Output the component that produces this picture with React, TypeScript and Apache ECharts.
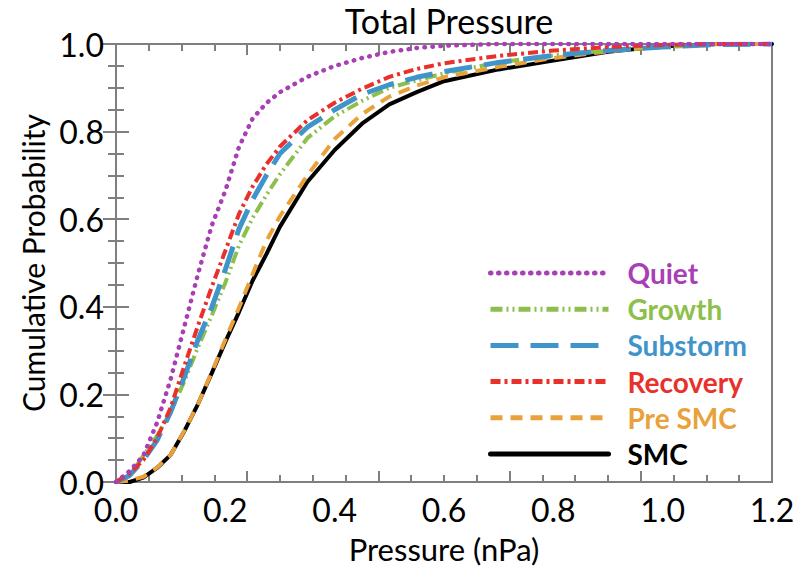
import React, { useEffect, useRef } from "react";
import * as echarts from "echarts";

const pressureGrid = [0, 0.025, 0.05, 0.075, 0.1, 0.125, 0.15, 0.175, 0.2, 0.225, 0.25, 0.275, 0.3, 0.35, 0.4, 0.45, 0.5, 0.55, 0.6, 0.7, 0.8, 0.9, 1.0, 1.1, 1.2];

const quiet = [0, 0.025, 0.06, 0.135, 0.235, 0.355, 0.475, 0.585, 0.665, 0.765, 0.83, 0.865, 0.89, 0.925, 0.95, 0.968, 0.982, 0.991, 0.996, 1.0, 1.0, 1.0, 1.0, 1.0, 1.0];
const growth = [0, 0.015, 0.06, 0.105, 0.16, 0.23, 0.308, 0.38, 0.455, 0.54, 0.603, 0.655, 0.703, 0.785, 0.835, 0.87, 0.9, 0.917, 0.933, 0.958, 0.974, 0.985, 0.993, 0.999, 1.0];
const substorm = [0, 0.015, 0.05, 0.095, 0.16, 0.24, 0.325, 0.398, 0.485, 0.578, 0.645, 0.7, 0.75, 0.81, 0.85, 0.885, 0.907, 0.924, 0.937, 0.958, 0.974, 0.985, 0.993, 0.999, 1.0];
const recovery = [0, 0.02, 0.05, 0.1, 0.17, 0.265, 0.357, 0.445, 0.528, 0.612, 0.675, 0.725, 0.766, 0.826, 0.866, 0.898, 0.925, 0.943, 0.956, 0.973, 0.985, 0.993, 0.998, 1.0, 1.0];
const preSmc = [0, 0.003, 0.012, 0.033, 0.062, 0.117, 0.178, 0.25, 0.325, 0.398, 0.475, 0.55, 0.607, 0.7, 0.783, 0.84, 0.88, 0.905, 0.924, 0.948, 0.968, 0.983, 0.994, 1.0, 1.0];
const smc = [0, 0.0, 0.01, 0.032, 0.062, 0.116, 0.178, 0.248, 0.32, 0.388, 0.46, 0.52, 0.583, 0.685, 0.758, 0.818, 0.862, 0.89, 0.915, 0.942, 0.962, 0.982, 0.995, 1.0, 1.0];

const xTickLabels = ["0.0", "0.2", "0.4", "0.6", "0.8", "1.0", "1.2"];

const FONT = "Lato";
const AXIS_COLOR = "#7f7f7f";

function pairs(vals: number[]) {
  return pressureGrid.map((x, i) => [x, vals[i]]);
}

export default function App() {
  const ref = useRef<HTMLDivElement>(null);
  useEffect(() => {
    if (!ref.current) return;
    const chart = echarts.init(ref.current, null, { renderer: "svg" });
    const mk = (name: string, vals: number[], color: string, width: number, type: any, cap: string) => ({
      name,
      type: "line",
      data: pairs(vals),
      symbol: "none",
      smooth: false,
      lineStyle: { color, width, type, cap },
      itemStyle: { color },
      xAxisIndex: 0,
      yAxisIndex: 0,
    });
    const hiddenAxisBase = {
      type: "value",
      min: 0,
      axisLabel: { show: false },
      splitLine: { show: false },
      axisLine: { show: false },
    };
    chart.setOption({
      animation: false,
      backgroundColor: "#ffffff",
      title: {
        text: "Total Pressure",
        left: 444,
        textAlign: "center",
        top: 4,
        textStyle: { fontFamily: FONT, fontSize: 34, lineHeight: 22, fontWeight: "normal", color: "#000" },
      },
      grid: {
        left: 116,
        right: 32,
        top: 44,
        bottom: 86,
        show: true,
        borderColor: AXIS_COLOR,
        borderWidth: 2,
        backgroundColor: "transparent",
      },
      legend: {
        orient: "vertical",
        left: 488,
        top: 258,
        padding: 0,
        itemWidth: 118,
        itemHeight: 14,
        itemGap: 6.2,
        itemStyle: { opacity: 0 },
        lineStyle: { width: 5 },
        data: [
          { name: "Quiet", textStyle: { color: "#a83fb4" } },
          { name: "Growth", textStyle: { color: "#8cbf4c" } },
          { name: "Substorm", textStyle: { color: "#3f94c9" } },
          { name: "Recovery", textStyle: { color: "#e8312b" } },
          { name: "Pre SMC", textStyle: { color: "#e9a13a" } },
          { name: "SMC", textStyle: { color: "#000000" } },
        ],
        textStyle: { fontFamily: FONT, fontSize: 28, fontWeight: "bold", lineHeight: 30, padding: [0, 0, 0, 14] },
      },
      xAxis: [
        {
          type: "value",
          min: 0,
          max: 1.2,
          interval: 0.2,
          position: "bottom",
          axisLine: { show: true, lineStyle: { color: AXIS_COLOR, width: 2 } },
          axisTick: { show: false },
          splitLine: { show: false },
          axisLabel: {
            fontFamily: FONT,
            fontSize: 32,
            color: "#000",
            margin: 11,
            formatter: (v: number) => xTickLabels[Math.round(v / 0.2)] ?? v.toFixed(1),
          },
          name: "Pressure (nPa)",
          nameLocation: "middle",
          nameGap: 51,
          nameTextStyle: { fontFamily: FONT, fontSize: 31, color: "#000" },
        },
        {
          ...hiddenAxisBase,
          max: 1.2,
          interval: 0.24,
          position: "bottom",
          axisTick: { show: true, inside: true, length: 11, lineStyle: { color: AXIS_COLOR, width: 2 } },
          minorTick: { show: true, splitNumber: 4, length: 7, lineStyle: { color: AXIS_COLOR, width: 2 } },
        },
        {
          ...hiddenAxisBase,
          max: 1.2,
          interval: 0.24,
          position: "top",
          axisTick: { show: true, inside: true, length: 11, lineStyle: { color: AXIS_COLOR, width: 2 } },
          minorTick: { show: true, splitNumber: 4, length: 7, lineStyle: { color: AXIS_COLOR, width: 2 } },
        },
      ],
      yAxis: [
        {
          type: "value",
          min: 0,
          max: 1,
          interval: 0.2,
          position: "left",
          axisLine: { show: true, lineStyle: { color: AXIS_COLOR, width: 2 } },
          axisTick: { show: true, inside: true, length: 13, lineStyle: { color: AXIS_COLOR, width: 2 } },
          minorTick: { show: true, splitNumber: 4, length: 8, lineStyle: { color: AXIS_COLOR, width: 2 } },
          splitLine: { show: false },
          axisLabel: {
            fontFamily: FONT,
            fontSize: 32,
            color: "#000",
            margin: 12,
            formatter: (v: number) => v.toFixed(1),
          },
          name: "Cumulative Probability",
          nameLocation: "middle",
          nameGap: 66,
          nameTextStyle: { fontFamily: FONT, fontSize: 30, color: "#000" },
        },
        {
          ...hiddenAxisBase,
          max: 1,
          interval: 0.2,
          position: "right",
          axisTick: { show: true, inside: true, length: 13, lineStyle: { color: AXIS_COLOR, width: 2 } },
          minorTick: { show: true, splitNumber: 4, length: 8, lineStyle: { color: AXIS_COLOR, width: 2 } },
        },
      ],
      series: [
        mk("SMC", smc, "#000000", 4, "solid", "round"),
        mk("Pre SMC", preSmc, "#e9a13a", 4, [12, 8], "butt"),
        mk("Growth", growth, "#8cbf4c", 4, [12, 4, 2, 4, 2, 4], "butt"),
        mk("Substorm", substorm, "#3f94c9", 5, [28, 12], "butt"),
        mk("Recovery", recovery, "#e8312b", 4, [10, 4, 3, 4], "butt"),
        mk("Quiet", quiet, "#a83fb4", 4.5, [0.5, 7.5], "round"),
      ],
    });
    return () => chart.dispose();
  }, []);
  return (
    <div
      ref={ref}
      style={{ position: "absolute", left: 0, top: 0, width: 804, height: 569 }}
    />
  );
}
